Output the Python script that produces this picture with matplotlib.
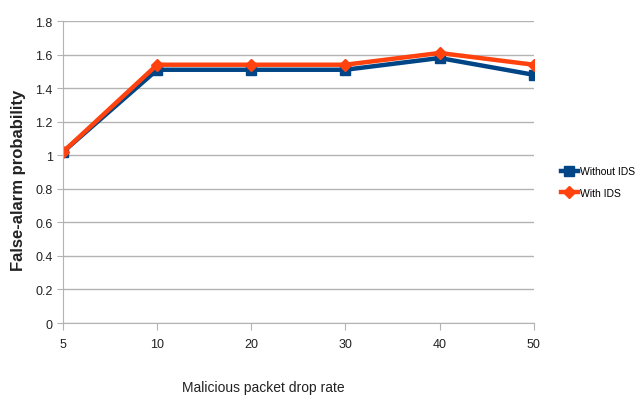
import matplotlib.pyplot as plt

# drop rates and false-alarm probabilities for both configurations
drop_rates = ['5', '10', '20', '30', '40', '50']
without_ids = [1.02, 1.51, 1.51, 1.51, 1.58, 1.48]
with_ids = [1.02, 1.54, 1.54, 1.54, 1.61, 1.54]

plt.rcParams['font.family'] = ['Liberation Sans', 'DejaVu Sans']

fig = plt.figure(figsize=(6.43, 4.02), dpi=100)
ax = fig.add_axes([0.098, 0.194, 0.732, 0.751])

x = range(len(drop_rates))
ax.plot(x, without_ids, color='#004586', lw=3.2, marker='s', ms=7, label='Without IDS')
ax.plot(x, with_ids, color='#ff420e', lw=3.2, marker='D', ms=6, label='With IDS')

ax.set_xlim(0, len(drop_rates) - 1)
ax.set_ylim(0, 1.8)
ax.set_xticks(list(x))
ax.set_xticklabels(drop_rates)
ax.set_yticks([i * 0.2 for i in range(10)])
ax.set_yticklabels(['0', '0.2', '0.4', '0.6', '0.8', '1', '1.2', '1.4', '1.6', '1.8'])
ax.grid(axis='y', color='#b3b3b3', lw=1)
ax.set_axisbelow(True)

for s in ['top', 'right']:
    ax.spines[s].set_visible(False)
for s in ['left', 'bottom']:
    ax.spines[s].set_color('#b3b3b3')
ax.tick_params(axis='x', colors='#b3b3b3', labelcolor='#222222', length=5, labelsize=9, pad=6)
ax.tick_params(axis='y', colors='#b3b3b3', labelcolor='#222222', length=4, labelsize=9)

# axis titles placed on the figure
fig.text(263 / 643, 1 - 388 / 402, 'Malicious packet drop rate', fontsize=10,
         ha='center', va='center', color='#222222')
fig.text(19 / 643, 1 - 180 / 402, 'False-alarm probability', fontsize=12, fontweight='bold',
         rotation=90, ha='center', va='center', color='#222222')

ax.legend(loc='center left', bbox_to_anchor=(0.858, 0.545), bbox_transform=fig.transFigure,
          frameon=False, fontsize=7.5, handlelength=1.6, handletextpad=0.2, labelspacing=1.1)

plt.savefig('out.png', dpi=100)
